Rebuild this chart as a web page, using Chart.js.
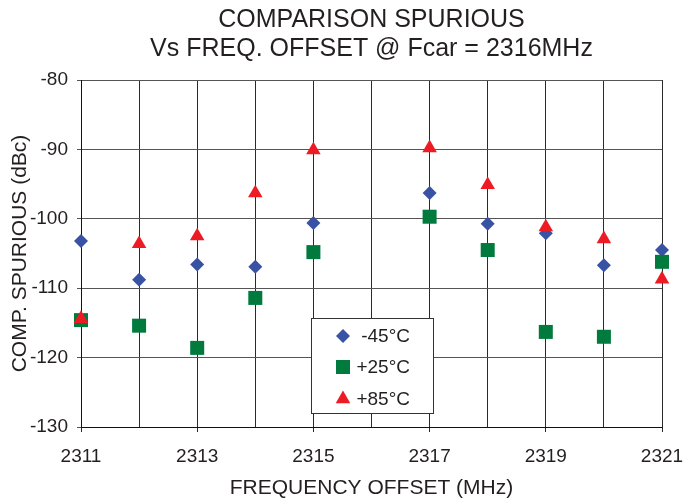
<!DOCTYPE html>
<html>
<head>
<meta charset="utf-8">
<script src="https://cdn.jsdelivr.net/npm/chart.js@4/dist/chart.umd.min.js"></script>
<style>
  html, body { margin: 0; padding: 0; background: #ffffff; }
  #wrap { width: 683px; height: 504px; position: relative; }
</style>
</head>
<body>
<div id="wrap"><canvas id="c" width="683" height="504"></canvas></div>
<script>
const titleLines = ['COMPARISON SPURIOUS', 'Vs FREQ. OFFSET @ Fcar = 2316MHz'];
const xTitle = 'FREQUENCY OFFSET (MHz)';
const yTitle = 'COMP. SPURIOUS (dBc)';
const seriesNames = ['-45\u00B0C', '+25\u00B0C', '+85\u00B0C'];

const freqs = [2311, 2312, 2313, 2314, 2315, 2317, 2318, 2319, 2320, 2321];
const tempM45 = [-103.2, -108.8, -106.6, -106.9, -100.6, -96.3, -100.7, -102.1, -106.7, -104.5];
const tempP25 = [-114.6, -115.4, -118.6, -111.4, -104.8, -99.7, -104.5, -116.3, -117.0, -106.2];
const tempP85 = [-114.4, -103.6, -102.5, -96.3, -90.1, -89.8, -95.1, -101.2, -102.9, -108.7];

const xMin = 2311, xMax = 2321, xStep = 1;
const yMin = -130, yMax = -80, yStep = 10;

const colors = ['#3953A4', '#007A3D', '#ED1C24'];
const styles = [
  { pointStyle: 'rectRot', radius: 7 },
  { pointStyle: 'rect', radius: 9.9 },
  { pointStyle: 'triangle', radius: 8.4 }
];
const textColor = '#231F20';
const FONT = "'Liberation Sans', Arial, Helvetica, sans-serif";

function pts(vals) { return freqs.map((f, i) => ({ x: f, y: vals[i] })); }
const allSeries = [tempM45, tempP25, tempP85];

const datasets = allSeries.map((vals, i) => ({
  label: seriesNames[i],
  data: pts(vals),
  backgroundColor: colors[i],
  borderColor: colors[i],
  borderWidth: 0,
  pointStyle: styles[i].pointStyle,
  pointRadius: styles[i].radius,
  pointHoverRadius: styles[i].radius,
  showLine: false,
  clip: false,
  order: 3 - i
}));

const legendBoxPlugin = {
  id: 'legendBox',
  afterDatasetsDraw(chart) {
    const ctx = chart.ctx;
    const bx = 311.5, by = 318.5, bw = 122, bh = 95;
    ctx.save();
    ctx.fillStyle = '#ffffff';
    ctx.fillRect(bx, by, bw, bh);
    ctx.strokeStyle = '#333333';
    ctx.lineWidth = 1;
    ctx.strokeRect(bx, by, bw, bh);
    const rowsY = [336, 367, 399];
    ctx.font = '19px ' + FONT;
    ctx.textAlign = 'right';
    ctx.textBaseline = 'middle';
    for (let i = 0; i < 3; i++) {
      ctx.fillStyle = colors[i];
      Chart.helpers.drawPoint(ctx, {
        pointStyle: styles[i].pointStyle,
        radius: styles[i].radius,
        rotation: 0,
        borderWidth: 0
      }, 343, rowsY[i]);
      ctx.fillStyle = textColor;
      ctx.fillText(seriesNames[i], 410, rowsY[i] + 1);
    }
    ctx.restore();
  }
};

new Chart(document.getElementById('c'), {
  type: 'scatter',
  data: { datasets },
  plugins: [legendBoxPlugin],
  options: {
    responsive: false,
    animation: false,
    events: [],
    layout: { padding: { left: 0, right: 21, top: 0, bottom: 0 } },
    plugins: {
      legend: { display: false },
      tooltip: { enabled: false },
      title: {
        display: true,
        text: titleLines,
        fullSize: false,
        color: textColor,
        font: { family: FONT, size: 25, weight: 'normal', lineHeight: 1.18 },
        padding: { top: 5, bottom: 16 }
      }
    },
    scales: {
      x: {
        type: 'linear',
        min: xMin,
        max: xMax,
        afterFit(s) { s.height = 77; s.paddingLeft = 0; s.paddingRight = 0; },
        ticks: {
          stepSize: xStep,
          autoSkip: false,
          maxRotation: 0,
          color: textColor,
          padding: 13,
          font: { family: FONT, size: 19 },
          callback: (v) => (Math.round(v) % 2 === 1 ? String(v) : '')
        },
        grid: {
          color: '#2a2a2a',
          lineWidth: 1,
          tickLength: 5,
          tickColor: (c) => (c.tick && Math.round(c.tick.value) % 2 === 1 ? '#2a2a2a' : 'rgba(0,0,0,0)')
        },
        border: { color: '#111111', width: 1 },
        title: {
          display: true,
          text: xTitle,
          color: textColor,
          font: { family: FONT, size: 21 },
          padding: { top: 0, bottom: 3 }
        }
      },
      y: {
        type: 'linear',
        min: yMin,
        max: yMax,
        afterFit(s) { s.width = 81; s.paddingTop = 0; s.paddingBottom = 0; },
        ticks: {
          stepSize: yStep,
          color: textColor,
          padding: 9,
          font: { family: FONT, size: 19 }
        },
        grid: {
          color: '#555555',
          lineWidth: 1,
          tickLength: 4,
          tickColor: '#555555'
        },
        border: { color: '#111111', width: 1 },
        title: {
          display: true,
          text: yTitle,
          color: textColor,
          font: { family: FONT, size: 21 },
          padding: { top: 8, bottom: 0 }
        }
      }
    }
  }
});
</script>
</body>
</html>
